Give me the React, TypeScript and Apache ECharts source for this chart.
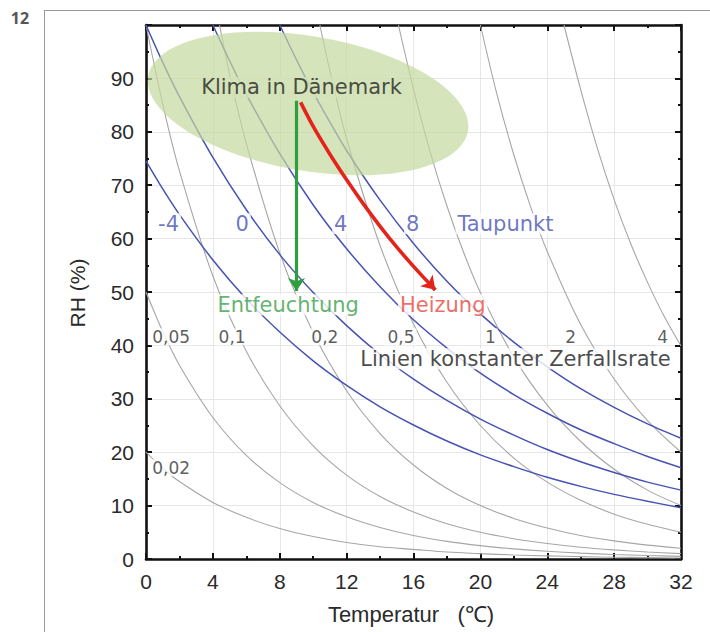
import React, { useEffect, useRef } from "react";
import * as echarts from "echarts";

// Dew point lines (Taupunkt), [temperature °C, RH %]
const dewLevels = ["-4", "0", "4", "8"];
const dewM4 = [[0, 74.5], [1, 69.3], [2, 64.5], [4, 56.0], [6, 48.7], [8, 42.5], [10, 37.1], [12, 32.5], [14, 28.5], [16, 25.1], [18, 22.1], [20, 19.5], [22, 17.3], [24, 15.3], [26, 13.6], [28, 12.1], [30, 10.8], [32, 9.6]];
const dew0 = [[0, 100], [1, 93.0], [2, 86.6], [4, 75.2], [6, 65.4], [8, 57.0], [10, 49.9], [12, 43.7], [14, 38.3], [16, 33.7], [18, 29.7], [20, 26.2], [22, 23.2], [24, 20.5], [26, 18.2], [28, 16.2], [30, 14.4], [32, 12.9]];
const dew4 = [[4, 100], [5, 93.3], [6, 87.0], [8, 75.9], [10, 66.3], [12, 58.1], [14, 51.0], [16, 44.8], [18, 39.5], [20, 34.8], [22, 30.8], [24, 27.3], [26, 24.2], [28, 21.6], [30, 19.2], [32, 17.1]];
const dew8 = [[8, 100], [9, 93.5], [10, 87.4], [12, 76.5], [14, 67.2], [16, 59.1], [18, 52.0], [20, 45.9], [22, 40.6], [24, 36.0], [26, 31.9], [28, 28.4], [30, 25.3], [32, 22.6]];

// Lines of constant decay rate (Zerfallsrate)
const rateLabels = ["0,05", "0,1", "0,2", "0,5", "1", "2", "4"];
const rate002 = [[0, 20], [1, 17.0], [2, 14.5], [4, 10.6], [6, 7.8], [8, 5.7], [10, 4.2], [12, 3.1], [14, 2.3], [16, 1.8], [18, 1.3], [20, 1.0], [22, 0.76], [24, 0.58], [26, 0.44], [28, 0.34], [30, 0.26], [32, 0.2]];
const rate005 = [[0, 50], [1, 42.6], [2, 36.3], [4, 26.5], [6, 19.4], [8, 14.3], [10, 10.6], [12, 7.9], [14, 5.9], [16, 4.4], [18, 3.3], [20, 2.5], [22, 1.9], [24, 1.44], [26, 1.1], [28, 0.84], [30, 0.65], [32, 0.5]];
const rate01 = [[0, 100], [1, 85.2], [2, 72.7], [4, 53.0], [6, 38.9], [8, 28.7], [10, 21.2], [12, 15.7], [14, 11.7], [16, 8.8], [18, 6.6], [20, 5.0], [22, 3.8], [24, 2.9], [26, 2.2], [28, 1.7], [30, 1.3], [32, 1.0]];
const rate02 = [[4.4, 100], [5, 90.8], [6, 77.8], [8, 57.3], [10, 42.4], [12, 31.5], [14, 23.5], [16, 17.6], [18, 13.2], [20, 10.0], [22, 7.6], [24, 5.8], [26, 4.4], [28, 3.4], [30, 2.6], [32, 2.0]];
const rate05 = [[10.4, 100], [11, 91.4], [12, 78.7], [14, 58.7], [16, 44.0], [18, 33.1], [20, 25.0], [22, 18.9], [24, 14.4], [26, 11.0], [28, 8.4], [30, 6.5], [32, 5.0]];
const rate1 = [[15.1, 100], [16, 88.0], [17, 76.2], [18, 66.1], [19, 57.4], [20, 49.9], [22, 37.8], [24, 28.8], [26, 22.0], [28, 16.8], [30, 12.9], [32, 10.0]];
const rate2 = [[20.0, 100], [21, 86.9], [22, 75.7], [23, 66.0], [24, 57.6], [26, 43.9], [28, 33.7], [30, 25.9], [32, 20.0]];
const rate4 = [[25.0, 100], [26, 87.9], [27, 76.9], [28, 67.3], [29, 59.0], [30, 51.8], [31, 45.4], [32, 39.9]];

// Arrows: dehumidification (vertical) and heating (constant dew point)
const dehumidPath = [[9.0, 85.8], [9.0, 50.2]];
const heatingPath = [[9.25, 85.5], [10, 81.0], [11, 75.8], [12, 71.0], [13, 66.5], [14, 62.3], [15, 58.4], [16, 54.8], [17, 51.4], [17.3, 50.4]];

// Climate region of Denmark (ellipse): centre and radii in data units
const climateCenter = [9.7, 85.3];
const climateRadius = [9.7, 12.6];

// Label anchor positions [temperature, RH]
const dewLabelPos = [[1.35, 62.8], [5.75, 62.8], [11.65, 62.8], [15.95, 62.8]];
const rateLabelPos = [[1.5, 41.6], [5.15, 41.6], [10.7, 41.6], [15.25, 41.6], [20.6, 41.6], [25.4, 41.6], [30.9, 41.6]];

const BLUE = "#4753b2";
const GRAY = "#a6a6a6";
const RED = "#e3241b";
const GREEN = "#2f9e3f";
const ELLIPSE_BG = "#d3e2b8";
const SANS = "DejaVu Sans";
const TICKFONT = "Liberation Sans";

export default function App() {
  const ref = useRef<HTMLDivElement>(null);
  useEffect(() => {
    if (!ref.current) return;
    const chart = echarts.init(ref.current, null, { renderer: "svg" });

    const axisCommon = (pos: string, showLabel: boolean, isX: boolean) => ({
      type: "value",
      position: pos,
      min: 0,
      max: isX ? 32 : 100,
      interval: isX ? 4 : 10,
      axisLine: { show: true, onZero: false, lineStyle: { color: "#111", width: 2.6 } },
      axisTick: { show: true, inside: true, length: 6, lineStyle: { color: "#111", width: 2 } },
      minorTick: { show: true, splitNumber: 2, length: 3, lineStyle: { color: "#111", width: 2 } },
      splitLine: { show: showLabel, lineStyle: { color: "#e6e6e6", width: 1 } },
      axisLabel: {
        show: showLabel,
        margin: 12,
        fontSize: 21,
        fontFamily: TICKFONT,
        color: "#2a2a2a",
        formatter: (v: number) => (!isX && v === 100 ? "" : String(v)),
      },
    });

    const curve = (data: number[][], color: string, width: number) => ({
      type: "line",
      data,
      smooth: 0.3,
      symbol: "none",
      showSymbol: false,
      silent: true,
      z: 2,
      lineStyle: { color, width },
    });

    const labelSeries = (
      items: { value: number[]; name: string }[],
      color: string,
      fontSize: number,
      bg: string
    ) => ({
      type: "scatter",
      symbolSize: 0,
      silent: true,
      z: 6,
      data: items,
      label: {
        show: true,
        position: "inside",
        formatter: "{b}",
        fontFamily: SANS,
        fontSize,
        lineHeight: fontSize,
        color,
        backgroundColor: bg,
        padding: [0, 2],
      },
    });

    chart.setOption({
      animation: false,
      backgroundColor: "#fff",
      grid: { left: 146, right: 29, top: 25, bottom: 73 },
      xAxis: [axisCommon("bottom", true, true), axisCommon("top", false, true)],
      yAxis: [axisCommon("left", true, false), axisCommon("right", false, false)],
      graphic: [
        { type: "line", shape: { x1: 44, y1: 10.5, x2: 710, y2: 10.5 }, style: { stroke: "#9a9a9a", lineWidth: 1 } },
        { type: "line", shape: { x1: 44.5, y1: 10, x2: 44.5, y2: 632 }, style: { stroke: "#9a9a9a", lineWidth: 1 } },
        { type: "text", x: 20, y: 18, style: { text: "12", font: "bold 16px 'Open Sans'", fill: "#555", align: "center", verticalAlign: "middle" } },
        { type: "text", x: 77, y: 293, rotation: Math.PI / 2, style: { text: "RH (%)", font: "21px 'Liberation Sans'", fill: "#2a2a2a", align: "center", verticalAlign: "middle" } },
        { type: "text", x: 411, y: 614, style: { text: "Temperatur   (℃)", font: "22px 'Liberation Sans'", fill: "#2a2a2a", align: "center", verticalAlign: "middle" } },
      ],
      series: [
        curve(rate002, GRAY, 1.1),
        curve(rate005, GRAY, 1.1),
        curve(rate01, GRAY, 1.1),
        curve(rate02, GRAY, 1.1),
        curve(rate05, GRAY, 1.1),
        curve(rate1, GRAY, 1.1),
        curve(rate2, GRAY, 1.1),
        curve(rate4, GRAY, 1.1),
        curve(dewM4, BLUE, 1.5),
        curve(dew0, BLUE, 1.5),
        curve(dew4, BLUE, 1.5),
        curve(dew8, BLUE, 1.5),
        {
          type: "custom",
          silent: true,
          z: 3,
          data: [climateCenter],
          renderItem: (_p: any, api: any) => {
            const c = api.coord([api.value(0), api.value(1)]);
            const s = api.size([climateRadius[0], climateRadius[1]]);
            return {
              type: "ellipse",
              x: c[0],
              y: c[1],
              rotation: -0.17,
              shape: { cx: 0, cy: 0, rx: s[0], ry: s[1] },
              style: { fill: "rgba(196,217,160,0.7)" },
            };
          },
        },
        {
          type: "line",
          data: heatingPath,
          smooth: 0.3,
          symbol: "none",
          silent: true,
          z: 4,
          lineStyle: { color: RED, width: 3.6 },
        },
        {
          type: "lines",
          coordinateSystem: "cartesian2d",
          silent: true,
          z: 4,
          symbol: ["none", "arrow"],
          symbolSize: 13,
          lineStyle: { color: RED, width: 3.6, opacity: 1 },
          data: [{ coords: heatingPath.slice(heatingPath.length - 2) }],
        },
        {
          type: "lines",
          coordinateSystem: "cartesian2d",
          silent: true,
          z: 4,
          symbol: ["none", "arrow"],
          symbolSize: 13,
          lineStyle: { color: GREEN, width: 3.2, opacity: 1 },
          data: [{ coords: dehumidPath }],
        },
        labelSeries([{ value: [9.3, 88.3], name: "Klima in Dänemark" }], "#222", 21, ELLIPSE_BG),
        labelSeries([{ value: [8.5, 47.6], name: "Entfeuchtung" }], "#3aa04a", 21, "#fff"),
        labelSeries([{ value: [17.75, 47.6], name: "Heizung" }], "#e8473c", 21, "#fff"),
        labelSeries(
          [
            ...dewLevels.map((n, i) => ({ value: dewLabelPos[i], name: n })),
            { value: [21.5, 62.8], name: "Taupunkt" },
          ],
          BLUE,
          21,
          "#fff"
        ),
        labelSeries(
          [
            ...rateLabels.map((n, i) => ({ value: rateLabelPos[i], name: n })),
            { value: [1.5, 17.1], name: "0,02" },
          ],
          "#333",
          17,
          "#fff"
        ),
        labelSeries([{ value: [22.1, 37.5], name: "Linien konstanter Zerfallsrate" }], "#1a1a1a", 21, "#fff"),
      ],
    });
    return () => chart.dispose();
  }, []);
  return <div ref={ref} style={{ position: "absolute", left: 0, top: 0, width: 710, height: 632 }} />;
}
